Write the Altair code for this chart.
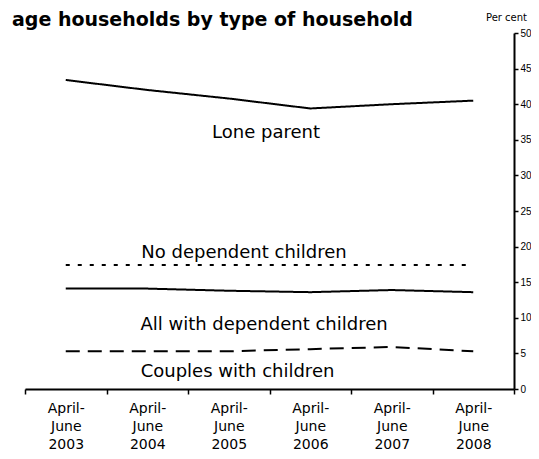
import altair as alt
import pandas as pd

categories = ["April-June 2003", "April-June 2004", "April-June 2005",
              "April-June 2006", "April-June 2007", "April-June 2008"]
lone_parent = [43.4, 42.0, 40.8, 39.4, 40.0, 40.5]
no_dependent = [17.4, 17.4, 17.4, 17.4, 17.4, 17.4]
all_dependent = [14.1, 14.1, 13.8, 13.6, 13.9, 13.6]
couples = [5.3, 5.3, 5.3, 5.6, 5.9, 5.3]

series_names = ["Lone parent", "No dependent children",
                "All with dependent children", "Couples with children"]
series_values = [lone_parent, no_dependent, all_dependent, couples]

rows = []
for name, vals in zip(series_names, series_values):
    for c, v in zip(categories, vals):
        rows.append({"period": c, "value": v, "series": name})
df = pd.DataFrame(rows)

FONT = "DejaVu Sans"

x_enc = alt.X("period:N", sort=categories, title=None,
              scale=alt.Scale(paddingInner=0, paddingOuter=0),
              axis=alt.Axis(labelAngle=0, domainColor="black", domainWidth=2,
                            tickColor="black", tickWidth=1.5, tickSize=5,
                            tickBand="extent", labelFont=FONT, labelFontSize=14,
                            labelColor="black", labelLineHeight=18,
                            labelPadding=7,
                            labelExpr="split(replace(datum.label, '-', '- '), ' ')"))
y_enc = alt.Y("value:Q", title=None,
              scale=alt.Scale(domain=[0, 50], nice=False),
              axis=alt.Axis(orient="right", values=list(range(0, 51, 5)),
                            grid=False, domainColor="black", domainWidth=2,
                            tickColor="black", tickWidth=1.5, tickSize=4,
                            labelFont="Liberation Sans", labelFontSize=10,
                            labelColor="black", labelPadding=2))

lines = alt.Chart(df).mark_line(color="black", strokeWidth=2).encode(
    x=x_enc, y=y_enc,
    strokeDash=alt.StrokeDash("series:N",
                              scale=alt.Scale(domain=series_names,
                                              range=[[1, 0], [4, 8], [1, 0], [14, 8]]),
                              legend=None),
    detail="series:N",
)

lab_df = pd.DataFrame({"label": series_names})

def label(name, px, py):
    return alt.Chart(lab_df).transform_filter(
        alt.datum.label == name
    ).mark_text(font=FONT, fontSize=18, color="black", align="center",
                baseline="middle").encode(
        text="label:N", x=alt.value(px), y=alt.value(py))

labels = [label(series_names[0], 241, 100),
          label(series_names[1], 219, 219.5),
          label(series_names[2], 239, 292),
          label(series_names[3], 212.5, 339)]

title = alt.Chart(pd.DataFrame({"t": ["age households by type of household"]})).mark_text(
    font=FONT, fontSize=19, fontWeight="bold", color="black", align="left",
    baseline="alphabetic").encode(text="t:N", x=alt.value(-13), y=alt.value(-7.5))

unit = alt.Chart(pd.DataFrame({"t": ["Per cent"]})).mark_text(
    font=FONT, fontSize=10, color="black", align="right",
    baseline="alphabetic").encode(text="t:N", x=alt.value(502), y=alt.value(-12.5))

chart = alt.layer(lines, *labels, title, unit).properties(
    width=489, height=356,
    autosize=alt.AutoSizeParams(type="none"),
    padding={"left": 17, "top": 25, "right": 17, "bottom": 62},
).configure_view(stroke=None)

chart.save("out.html", embed_options={"renderer": "svg", "actions": False})
